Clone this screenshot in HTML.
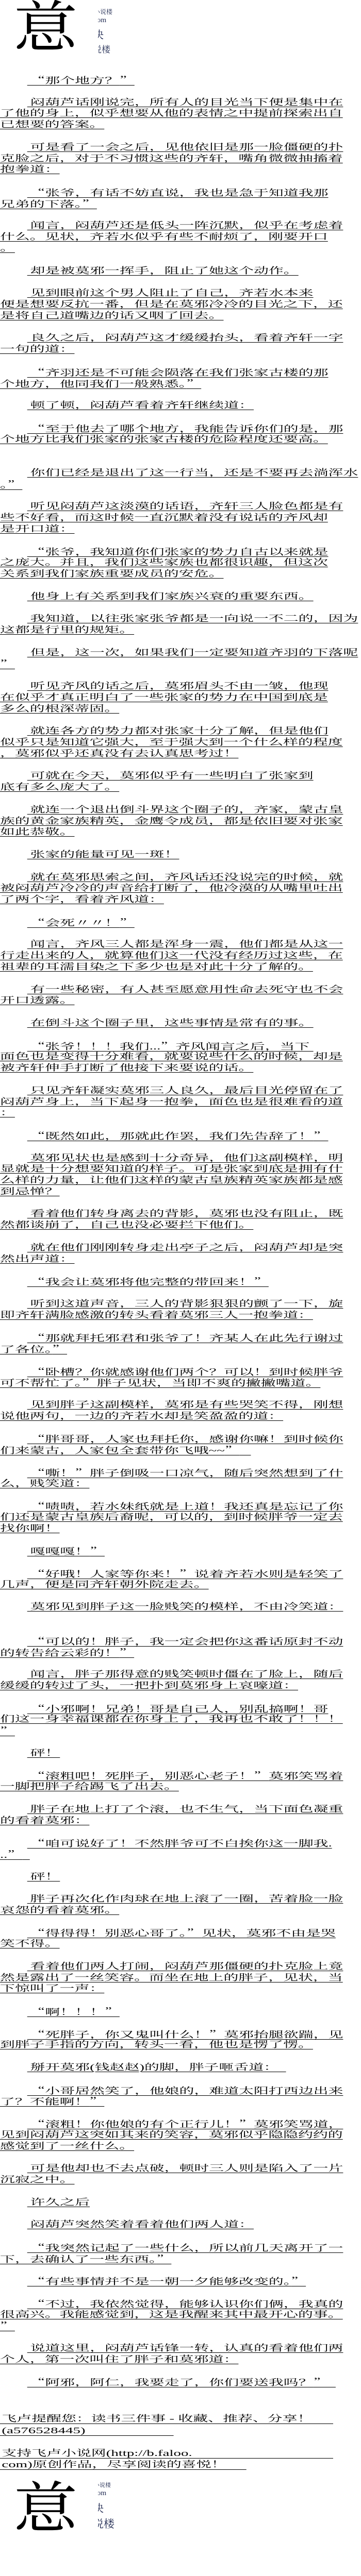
<!DOCTYPE html>
<html><head><meta charset="utf-8">
<style>
html,body{margin:0;padding:0;background:#fff;}
body{width:700px;height:6810px;position:relative;overflow:hidden;color:#000;}
.t{position:absolute;left:0;top:144px;width:412px;transform:scaleX(1.7);transform-origin:0 0;
 font-family:"Liberation Serif","Noto Serif CJK SC",serif;font-size:17px;}
.p{padding-bottom:21.8px;}
.e{height:21.8px;}
.l{height:21.8px;line-height:21.8px;white-space:nowrap;}
u{text-decoration:underline;text-decoration-thickness:1px;text-underline-offset:3px;}
.in{display:inline-block;width:31px;}
i{font-style:normal;font-family:"Noto Serif CJK SC",serif;}
.logo{position:absolute;left:0;width:300px;height:110px;overflow:hidden;}
.big{position:absolute;left:26px;top:-14px;font-family:"Liberation Serif","Noto Serif CJK SC",serif;font-size:125px;line-height:1;}
.sm{position:absolute;left:190px;top:0;width:60px;height:110px;overflow:hidden;color:#1e2850;font-family:"Liberation Serif","Noto Serif CJK SC",serif;}
.sm div{position:absolute;white-space:nowrap;line-height:1;}
.f{position:absolute;left:0;width:412px;transform:scaleX(1.7);transform-origin:0 0;font-family:"Liberation Serif","Noto Serif CJK SC",serif;font-size:17px;line-height:21.8px;height:21.8px;white-space:nowrap;}
.f span{display:block;padding-left:2px;}
.f b{position:absolute;left:0;top:20px;height:1px;background:#000;}
</style></head><body>

<div class="logo" style="top:0">
 <div class="big">意</div>
 <div class="sm">
  <div style="left:-8px;top:17px;font-size:12px">小说楼</div>
  <div style="left:-8px;top:33px;font-size:14px">com</div>
  <div style="left:-10px;top:58px;font-size:21px">快</div>
  <div style="left:-10px;top:88px;font-size:17px">说楼</div>
 </div>
</div>

<div class="t">
<div class="p"><div class="l"><span class="in"></span><u>&thinsp;<i>“</i>那个地方？<i>”</i></u></div></div>
<div class="p"><div class="l"><span class="in"></span><u>&thinsp;闷葫芦话刚说完，所有人的目光当下便是集中在</u></div><div class="l"><u>了他的身上，似乎想要从他的表情之中提前探索出自</u></div><div class="l"><u>已想要的答案。</u></div></div>
<div class="p"><div class="l"><span class="in"></span><u>&thinsp;可是看了一会之后，见他依旧是那一脸僵硬的扑</u></div><div class="l"><u>克脸之后，对于不习惯这些的齐轩，嘴角微微抽搐着</u></div><div class="l"><u>抱拳道：</u></div></div>
<div class="p"><div class="l"><span class="in"></span><u>&thinsp;<i>“</i>张爷，有话不妨直说，我也是急于知道我那</u></div><div class="l"><u>兄弟的下落。<i>”</i></u></div></div>
<div class="p"><div class="l"><span class="in"></span><u>&thinsp;闻言，闷葫芦还是低头一阵沉默，似乎在考虑着</u></div><div class="l"><u>什么。见状，齐若水似乎有些不耐烦了，刚要开口</u></div><div class="l"><u>。</u></div></div>
<div class="p"><div class="l"><span class="in"></span><u>&thinsp;却是被莫邪一挥手，阻止了她这个动作。</u></div></div>
<div class="p"><div class="l"><span class="in"></span><u>&thinsp;见到眼前这个男人阻止了自己，齐若水本来</u></div><div class="l"><u>便是想要反抗一番，但是在莫邪冷冷的目光之下，还</u></div><div class="l"><u>是将自己道嘴边的话又咽了回去。</u></div></div>
<div class="p"><div class="l"><span class="in"></span><u>&thinsp;良久之后，闷葫芦这才缓缓抬头，看着齐轩一字</u></div><div class="l"><u>一句的道：</u></div></div>
<div class="p"><div class="l"><span class="in"></span><u>&thinsp;<i>“</i>齐羽还是不可能会陨落在我们张家古楼的那</u></div><div class="l"><u>个地方，他同我们一般熟悉。<i>”</i></u></div></div>
<div class="p"><div class="l"><span class="in"></span><u>&thinsp;顿了顿，闷葫芦看着齐轩继续道：</u></div></div>
<div class="p"><div class="l"><span class="in"></span><u>&thinsp;<i>“</i>至于他去了哪个地方，我能告诉你们的是，那</u></div><div class="l"><u>个地方比我们张家的张家古楼的危险程度还要高。</u></div></div>
<div class="e"></div>
<div class="p"><div class="l"><span class="in"></span><u>&thinsp;你们已经是退出了这一行当，还是不要再去淌浑水</u></div><div class="l"><u>。<i>”</i></u></div></div>
<div class="p"><div class="l"><span class="in"></span><u>&thinsp;听见闷葫芦这淡漠的话语，齐轩三人脸色都是有</u></div><div class="l"><u>些不好看，而这时候一直沉默着没有说话的齐风却</u></div><div class="l"><u>是开口道：</u></div></div>
<div class="p"><div class="l"><span class="in"></span><u>&thinsp;<i>“</i>张爷，我知道你们张家的势力自古以来就是</u></div><div class="l"><u>之庞大。并且，我们这些家族也都很识趣，但这次</u></div><div class="l"><u>关系到我们家族重要成员的安危。</u></div></div>
<div class="p"><div class="l"><span class="in"></span><u>&thinsp;他身上有关系到我们家族兴衰的重要东西。</u></div></div>
<div class="p"><div class="l"><span class="in"></span><u>&thinsp;我知道，以往张家张爷都是一向说一不二的，因为</u></div><div class="l"><u>这都是行里的规矩。</u></div></div>
<div class="p"><div class="l"><span class="in"></span><u>&thinsp;但是，这一次，如果我们一定要知道齐羽的下落呢</u></div><div class="l"><u><i>”</i></u></div></div>
<div class="p"><div class="l"><span class="in"></span><u>&thinsp;听见齐风的话之后，莫邪眉头不由一皱，他现</u></div><div class="l"><u>在似乎才真正明白了一些张家的势力在中国到底是</u></div><div class="l"><u>多么的根深蒂固。</u></div></div>
<div class="p"><div class="l"><span class="in"></span><u>&thinsp;就连各方的势力都对张家十分了解，但是他们</u></div><div class="l"><u>似乎只是知道它强大，至于强大到一个什么样的程度</u></div><div class="l"><u>，莫邪似乎还真没有去认真思考过！</u></div></div>
<div class="p"><div class="l"><span class="in"></span><u>&thinsp;可就在今天，莫邪似乎有一些明白了张家到</u></div><div class="l"><u>底有多么庞大了。</u></div></div>
<div class="p"><div class="l"><span class="in"></span><u>&thinsp;就连一个退出倒斗界这个圈子的，齐家，蒙古皇</u></div><div class="l"><u>族的黄金家族精英，金鹰令成员，都是依旧要对张家</u></div><div class="l"><u>如此恭敬。</u></div></div>
<div class="p"><div class="l"><span class="in"></span><u>&thinsp;张家的能量可见一斑！</u></div></div>
<div class="p"><div class="l"><span class="in"></span><u>&thinsp;就在莫邪思索之间，齐风话还没说完的时候，就</u></div><div class="l"><u>被闷葫芦冷冷的声音给打断了，他冷漠的从嘴里吐出</u></div><div class="l"><u>了两个字，看着齐风道：</u></div></div>
<div class="p"><div class="l"><span class="in"></span><u>&thinsp;<i>“</i>会死〃〃！<i>”</i></u></div></div>
<div class="p"><div class="l"><span class="in"></span><u>&thinsp;闻言，齐风三人都是浑身一震，他们都是从这一</u></div><div class="l"><u>行走出来的人，就算他们这一代没有经历过这些，在</u></div><div class="l"><u>祖辈的耳濡目染之下多少也是对此十分了解的。</u></div></div>
<div class="p"><div class="l"><span class="in"></span><u>&thinsp;有一些秘密，有人甚至愿意用性命去死守也不会</u></div><div class="l"><u>开口透露。</u></div></div>
<div class="p"><div class="l"><span class="in"></span><u>&thinsp;在倒斗这个圈子里，这些事情是常有的事。</u></div></div>
<div class="p"><div class="l"><span class="in"></span><u>&thinsp;<i>“</i>张爷！！！我们...<i>”</i>齐风闻言之后，当下&nbsp;</u></div><div class="l"><u>面色也是变得十分难看，就要说些什么的时候，却是</u></div><div class="l"><u>被齐轩伸手打断了他接下来要说的话。</u></div></div>
<div class="p"><div class="l"><span class="in"></span><u>&thinsp;只见齐轩凝实莫邪三人良久，最后目光停留在了</u></div><div class="l"><u>闷葫芦身上，当下起身一抱拳，面色也是很难看的道</u></div><div class="l"><u>：</u></div></div>
<div class="p"><div class="l"><span class="in"></span><u>&thinsp;<i>“</i>既然如此，那就此作罢，我们先告辞了！<i>”</i></u></div></div>
<div class="p"><div class="l"><span class="in"></span><u>&thinsp;莫邪见状也是感到十分奇异，他们这副模样，明</u></div><div class="l"><u>显就是十分想要知道的样子。可是张家到底是拥有什</u></div><div class="l"><u>么样的力量，让他们这样的蒙古皇族精英家族都是感</u></div><div class="l"><u>到忌惮？</u></div></div>
<div class="p"><div class="l"><span class="in"></span><u>&thinsp;看着他们转身离去的背影，莫邪也没有阻止，既</u></div><div class="l"><u>然都谈崩了，自己也没必要拦下他们。</u></div></div>
<div class="p"><div class="l"><span class="in"></span><u>&thinsp;就在他们刚刚转身走出亭子之后，闷葫芦却是突</u></div><div class="l"><u>然出声道：</u></div></div>
<div class="p"><div class="l"><span class="in"></span><u>&thinsp;<i>“</i>我会让莫邪将他完整的带回来！<i>”</i></u></div></div>
<div class="p"><div class="l"><span class="in"></span><u>&thinsp;听到这道声音，三人的背影狠狠的颤了一下，旋</u></div><div class="l"><u>即齐轩满脸感激的转头看着莫邪三人一抱拳道：</u></div></div>
<div class="p"><div class="l"><span class="in"></span><u>&thinsp;<i>“</i>那就拜托邪君和张爷了！齐某人在此先行谢过</u></div><div class="l"><u>了各位。<i>”</i></u></div></div>
<div class="p"><div class="l"><span class="in"></span><u>&thinsp;<i>“</i>卧槽？你就感谢他们两个？可以！到时候胖爷</u></div><div class="l"><u>可不帮忙了。<i>”</i>胖子见状，当即不爽的撇撇嘴道。</u></div></div>
<div class="p"><div class="l"><span class="in"></span><u>&thinsp;见到胖子这副模样，莫邪是有些哭笑不得，刚想</u></div><div class="l"><u>说他两句，一边的齐若水却是笑盈盈的道：</u></div></div>
<div class="p"><div class="l"><span class="in"></span><u>&thinsp;<i>“</i>胖哥哥，人家也拜托你，感谢你嘛！到时候你</u></div><div class="l"><u>们来蒙古，人家包全套带你飞哦~~<i>”</i>&nbsp;&nbsp;&nbsp;</u></div></div>
<div class="p"><div class="l"><span class="in"></span><u>&thinsp;<i>“</i>嘶！<i>”</i>胖子倒吸一口凉气，随后突然想到了什</u></div><div class="l"><u>么，贱笑道：</u></div></div>
<div class="p"><div class="l"><span class="in"></span><u>&thinsp;<i>“</i>啧啧，若水妹纸就是上道！我还真是忘记了你</u></div><div class="l"><u>们还是蒙古皇族后裔呢，可以的，到时候胖爷一定去</u></div><div class="l"><u>找你啊！</u></div></div>
<div class="p"><div class="l"><span class="in"></span><u>&thinsp;嘎嘎嘎！<i>”</i></u></div></div>
<div class="p"><div class="l"><span class="in"></span><u>&thinsp;<i>“</i>好哦！人家等你来！<i>”</i>说着齐若水则是轻笑了</u></div><div class="l"><u>几声，便是同齐轩朝外院走去。</u></div></div>
<div class="p"><div class="l"><span class="in"></span><u>&thinsp;莫邪见到胖子这一脸贱笑的模样，不由冷笑道：</u></div></div>
<div class="e"></div>
<div class="p"><div class="l"><span class="in"></span><u>&thinsp;<i>“</i>可以的！胖子，我一定会把你这番话原封不动</u></div><div class="l"><u>的转告给云彩的！<i>”</i></u></div></div>
<div class="p"><div class="l"><span class="in"></span><u>&thinsp;闻言，胖子那得意的贱笑顿时僵在了脸上，随后</u></div><div class="l"><u>缓缓的转过了头，一把扑到莫邪身上哀嚎道：</u></div></div>
<div class="p"><div class="l"><span class="in"></span><u>&thinsp;<i>“</i>小邪啊！兄弟！哥是自己人，别乱搞啊！哥</u></div><div class="l"><u>们这一身幸福课都在你身上了，我再也不敢了！！！</u></div><div class="l"><u><i>”</i></u></div></div>
<div class="p"><div class="l"><span class="in"></span><u>&thinsp;砰！</u></div></div>
<div class="p"><div class="l"><span class="in"></span><u>&thinsp;<i>“</i>滚粗吧！死胖子，别恶心老子！<i>”</i>莫邪笑骂着</u></div><div class="l"><u>一脚把胖子给踢飞了出去。</u></div></div>
<div class="p"><div class="l"><span class="in"></span><u>&thinsp;胖子在地上打了个滚，也不生气，当下面色凝重</u></div><div class="l"><u>的看着莫邪：</u></div></div>
<div class="p"><div class="l"><span class="in"></span><u>&thinsp;<i>“</i>咱可说好了！不然胖爷可不白挨你这一脚我.</u></div><div class="l"><u>..<i>”</i>&nbsp;&nbsp;</u></div></div>
<div class="p"><div class="l"><span class="in"></span><u>&thinsp;砰！</u></div></div>
<div class="p"><div class="l"><span class="in"></span><u>&thinsp;胖子再次化作肉球在地上滚了一圈，苦着脸一脸</u></div><div class="l"><u>哀怨的看着莫邪。</u></div></div>
<div class="p"><div class="l"><span class="in"></span><u>&thinsp;<i>“</i>得得得！别恶心哥了。<i>”</i>见状，莫邪不由是哭</u></div><div class="l"><u>笑不得。</u></div></div>
<div class="p"><div class="l"><span class="in"></span><u>&thinsp;看着他们两人打闹，闷葫芦那僵硬的扑克脸上竟</u></div><div class="l"><u>然是露出了一丝笑容。而坐在地上的胖子，见状，当</u></div><div class="l"><u>下惊叫了一声：</u></div></div>
<div class="p"><div class="l"><span class="in"></span><u>&thinsp;<i>“</i>啊！！！<i>”</i></u></div></div>
<div class="p"><div class="l"><span class="in"></span><u>&thinsp;<i>“</i>死胖子，你又鬼叫什么！<i>”</i>莫邪抬腿欲踹，见</u></div><div class="l"><u>到胖子手指的方向，转头一看，他也是愣了愣。</u></div></div>
<div class="p"><div class="l"><span class="in"></span><u>&thinsp;掰开莫邪(钱赵赵)的脚，胖子咂舌道：&nbsp;&nbsp;</u></div></div>
<div class="p"><div class="l"><span class="in"></span><u>&thinsp;<i>“</i>小哥居然笑了，他娘的，难道太阳打西边出来</u></div><div class="l"><u>了？不能啊！<i>”</i></u></div></div>
<div class="p"><div class="l"><span class="in"></span><u>&thinsp;<i>“</i>滚粗！你他娘的有个正行儿！<i>”</i>莫邪笑骂道，</u></div><div class="l"><u>见到闷葫芦这突如其来的笑容，莫邪似乎隐隐约约的</u></div><div class="l"><u>感觉到了一丝什么。</u></div></div>
<div class="p"><div class="l"><span class="in"></span><u>&thinsp;可是他却也不去点破，顿时三人则是陷入了一片</u></div><div class="l"><u>沉寂之中。</u></div></div>
<div class="p"><div class="l"><span class="in"></span><u>&thinsp;许久之后</u></div></div>
<div class="p"><div class="l"><span class="in"></span><u>&thinsp;闷葫芦突然笑着看着他们两人道：</u></div></div>
<div class="p"><div class="l"><span class="in"></span><u>&thinsp;<i>“</i>我突然记起了一些什么，所以前几天离开了一</u></div><div class="l"><u>下，去确认了一些东西。<i>”</i></u></div></div>
<div class="p"><div class="l"><span class="in"></span><u>&thinsp;<i>“</i>有些事情并不是一朝一夕能够改变的。<i>”</i></u></div></div>
<div class="p"><div class="l"><span class="in"></span><u>&thinsp;<i>“</i>不过，我依然觉得，能够认识你们俩，我真的</u></div><div class="l"><u>很高兴。我能感觉到，这是我醒来其中最开心的事。</u></div><div class="l"><u><i>”</i></u></div></div>
<div class="p"><div class="l"><span class="in"></span><u>&thinsp;说道这里，闷葫芦话锋一转，认真的看着他们两</u></div><div class="l"><u>个人，第一次叫住了胖子和莫邪道：</u></div></div>
<div class="p"><div class="l"><span class="in"></span><u>&thinsp;<i>“</i>阿邪，阿仁，我要走了，你们要送我吗？<i>”</i>&nbsp;&nbsp;</u></div></div>
</div>

<div class="f" style="top:4684px"><span>飞卢提醒您：读书三件事 - 收藏、推荐、分享！</span><b style="width:380px"></b></div>
<div class="f" style="top:4707px"><span>(a576528445)</span><b style="width:198px"></b></div>
<div class="f" style="top:4751px"><span>支持飞卢小说网(http://b.faloo.</span><b style="width:380px"></b></div>
<div class="f" style="top:4773px"><span>com)原创作品，尽享阅读的喜悦！</span><b style="width:281px"></b></div>

<div class="logo" style="top:4815px;height:112px">
 <div class="big">意</div>
 <div class="sm" style="height:112px">
  <div style="left:-8px;top:4px;font-size:11px">小说楼</div>
  <div style="left:-8px;top:18px;font-size:14px">com</div>
  <div style="left:-10px;top:44px;font-size:21px">快</div>
  <div style="left:-10px;top:74px;font-size:21px">说楼</div>
 </div>
</div>
</body></html>
